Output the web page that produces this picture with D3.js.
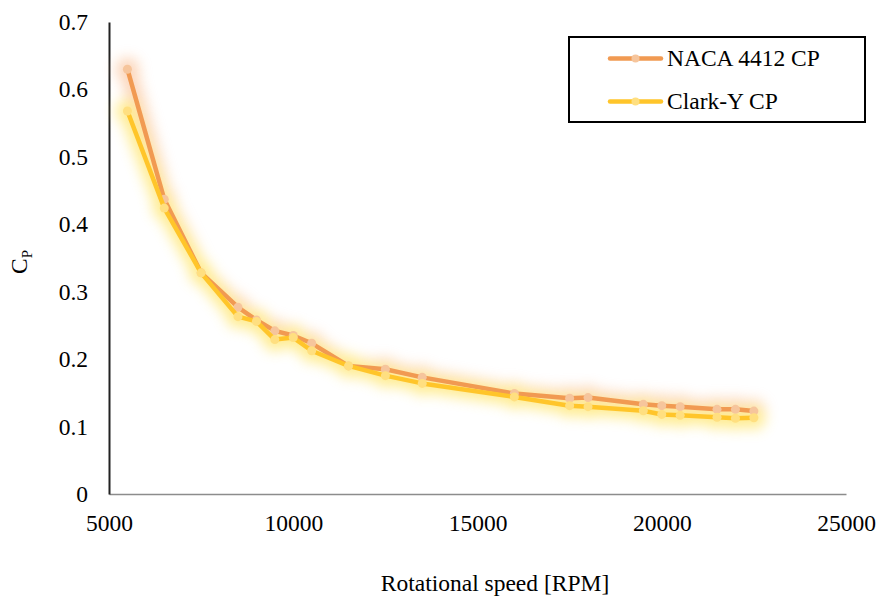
<!DOCTYPE html>
<html>
<head>
<meta charset="utf-8">
<script src="https://cdn.jsdelivr.net/npm/d3@7"></script>
<style>
  html, body { margin: 0; padding: 0; background: #fff; }
  svg text { font-family: "Liberation Serif", "Times New Roman", serif !important; }
</style>
</head>
<body>
<svg id="chart" width="877" height="596"></svg>
<script>
const rpm = [5500, 6500, 7500, 8500, 9000, 9500, 10000, 10500, 11500, 12500, 13500, 16000, 17500, 18000, 19500, 20000, 20500, 21500, 22000, 22500];
const nacaCP = [0.630, 0.437, 0.328, 0.277, 0.258, 0.242, 0.235, 0.2235, 0.190, 0.185, 0.173, 0.149, 0.142, 0.143, 0.133, 0.131, 0.1295, 0.1256, 0.1256, 0.123];
const clarkCP = [0.568, 0.424, 0.328, 0.263, 0.256, 0.229, 0.232, 0.2125, 0.190, 0.1755, 0.164, 0.144, 0.131, 0.1295, 0.1235, 0.118, 0.1167, 0.1138, 0.1123, 0.113];
const xTicks = [5000, 10000, 15000, 20000, 25000];
const yTicks = [0, 0.1, 0.2, 0.3, 0.4, 0.5, 0.6, 0.7];
const seriesNames = ["NACA 4412 CP", "Clark-Y CP"];

const series = [
  { name: seriesNames[0], values: nacaCP, line: "#F19A52", marker: "#F6C59C", glow: "#F9B98A" },
  { name: seriesNames[1], values: clarkCP, line: "#FFC52A", marker: "#FFDF80", glow: "#FFE04A" }
];

const svg = d3.select("#chart");
const x = d3.scaleLinear().domain([5000, 25000]).range([109, 846]);
const y = d3.scaleLinear().domain([0, 0.7]).range([494, 22]);

const defs = svg.append("defs");
const f = defs.append("filter").attr("id", "glow").attr("filterUnits", "userSpaceOnUse")
  .attr("x", 0).attr("y", 0).attr("width", 877).attr("height", 596);
f.append("feGaussianBlur").attr("stdDeviation", 6.5);

// axes
const xAxis = svg.append("g").attr("transform", "translate(0,494)")
  .call(d3.axisBottom(x).tickValues(xTicks).tickSize(0).tickPadding(20).tickFormat(d3.format("d")));
xAxis.select(".domain").attr("stroke", "#8c8c8c").attr("stroke-width", 1.6);
xAxis.selectAll("text").attr("font-size", 23.5).attr("fill", "#000");

const yAxis = svg.append("g").attr("transform", "translate(109,0)")
  .call(d3.axisLeft(y).tickValues(yTicks).tickSize(0).tickPadding(21).tickFormat(d => d === 0 ? "0" : d3.format(".1f")(d)));
yAxis.select(".domain").attr("stroke", "#222").attr("stroke-width", 2);
yAxis.selectAll("text").attr("font-size", 23.5).attr("fill", "#000");

const line = d3.line().x(d => x(d[0])).y(d => y(d[1]));

// glow layer
const glowG = svg.append("g").attr("filter", "url(#glow)").attr("opacity", 0.6);
series.forEach(s => {
  const pts = rpm.map((r, i) => [r, s.values[i]]);
  glowG.append("path").datum(pts).attr("d", line).attr("fill", "none")
    .attr("stroke", s.glow).attr("stroke-width", 17).attr("stroke-linejoin", "round");
  glowG.selectAll(null).data(pts).enter().append("circle")
    .attr("cx", d => x(d[0])).attr("cy", d => y(d[1])).attr("r", 11.5).attr("fill", s.glow);
});

// series
series.forEach(s => {
  const pts = rpm.map((r, i) => [r, s.values[i]]);
  const g = svg.append("g");
  g.append("path").datum(pts).attr("d", line).attr("fill", "none")
    .attr("stroke", s.line).attr("stroke-width", 4.5).attr("stroke-linejoin", "round").attr("stroke-linecap", "round");
  g.selectAll("circle").data(pts).enter().append("circle")
    .attr("cx", d => x(d[0])).attr("cy", d => y(d[1])).attr("r", 4.5).attr("fill", s.marker);
});

// axis titles
svg.append("text").attr("x", 495).attr("y", 591).attr("text-anchor", "middle")
  .attr("font-size", 23.5).text("Rotational speed [RPM]");
const yt = svg.append("text").attr("transform", "translate(27,262) rotate(-90)").attr("text-anchor", "middle")
  .attr("font-size", 23.5);
yt.append("tspan").text("C");
yt.append("tspan").attr("font-size", 15).attr("dy", 5).text("P");

// legend
const lg = svg.append("g");
lg.append("rect").attr("x", 569).attr("y", 37).attr("width", 296).attr("height", 85)
  .attr("fill", "#fff").attr("stroke", "#000").attr("stroke-width", 2);
series.forEach((s, i) => {
  const ly = [58.5, 101.5][i];
  lg.append("line").attr("x1", 610).attr("x2", 661).attr("y1", ly).attr("y2", ly)
    .attr("stroke", s.line).attr("stroke-width", 4.5).attr("stroke-linecap", "round");
  lg.append("circle").attr("cx", 635.5).attr("cy", ly).attr("r", 4).attr("fill", s.marker);
  lg.append("text").attr("x", 667).attr("y", ly + 7.5).attr("font-size", 23.5).text(s.name);
});
</script>
</body>
</html>
